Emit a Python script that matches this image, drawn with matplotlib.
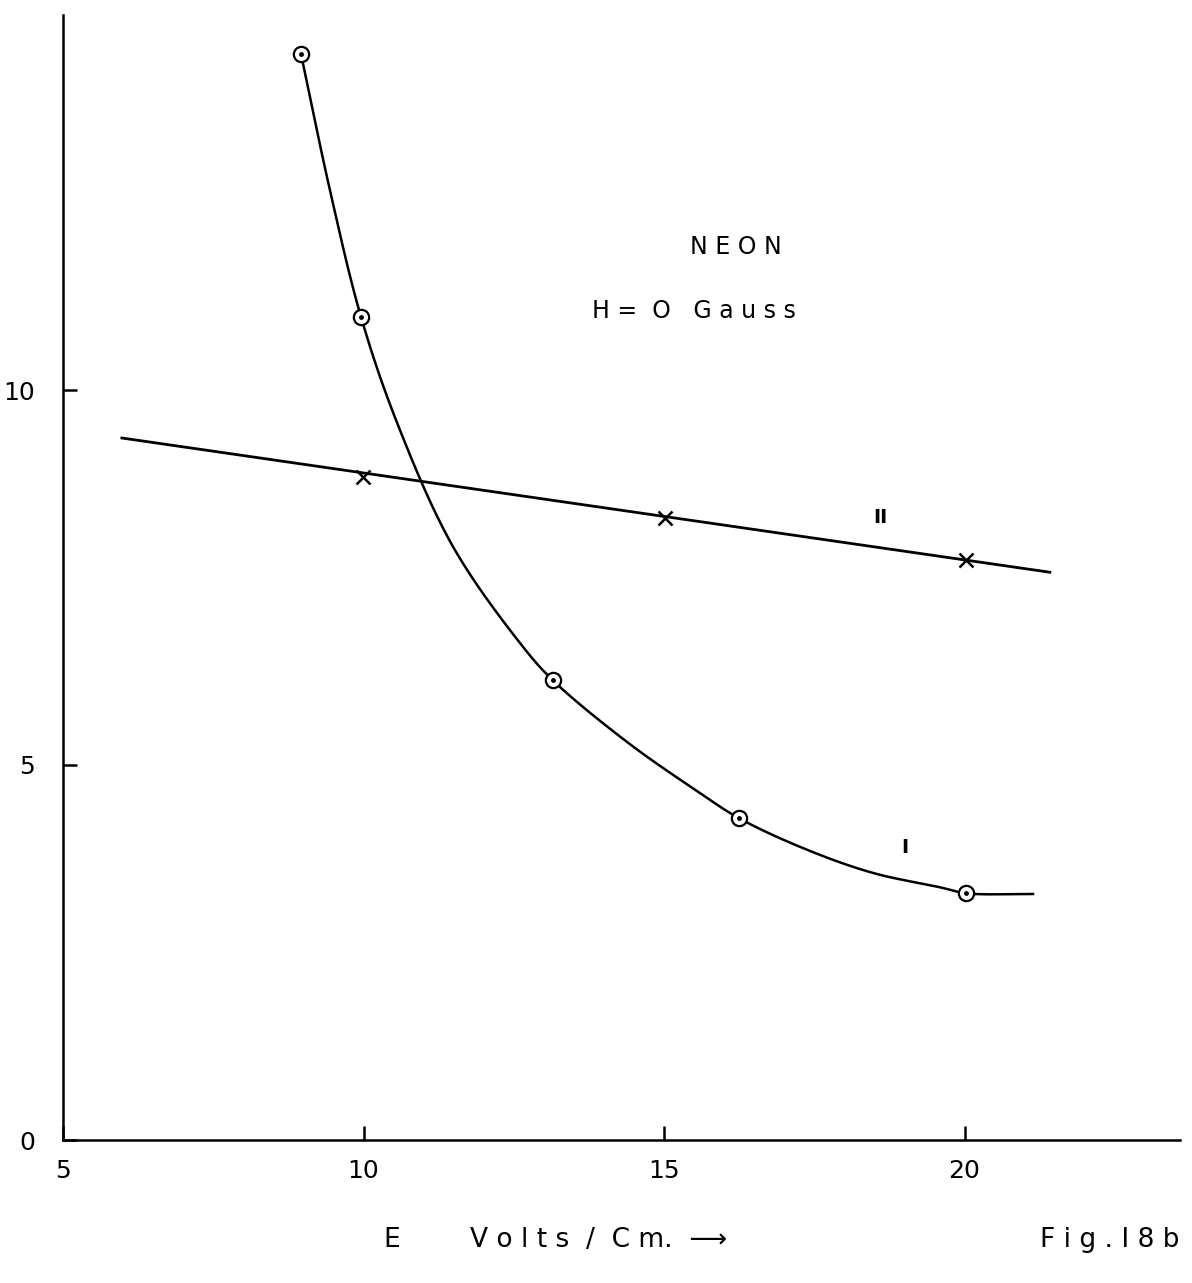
import numpy as np
import matplotlib
matplotlib.use('Agg')
import matplotlib.pyplot as plt

# measured points, curve I (circles) and curve II (crosses)
e_I = [8.96, 9.96, 13.15, 16.25, 20.02]
v_I = [14.48, 10.97, 6.13, 4.29, 3.29]
e_II = [9.99, 15.02, 20.02]
v_II = [8.84, 8.29, 7.73]

# hand drawn curve through the circles
trace_I_x = [8.96, 9.44, 9.96, 10.56, 11.49, 12.60, 13.15, 14.38, 15.48, 16.25,
             17.38, 18.48, 19.59, 20.02, 21.14]
trace_I_y = [14.48, 12.67, 10.97, 9.56, 7.91, 6.63, 6.13, 5.31, 4.69, 4.29,
             3.87, 3.56, 3.37, 3.29, 3.28]
# straight line II
trace_II_x = [5.98, 21.42]
trace_II_y = [9.36, 7.57]

xticks = [5, 10, 15, 20]
yticks = [0, 5, 10]


# smooth the traced pen line (centripetal catmull-rom, drawing only)
def smooth(xs, ys, sx=60.1, sy=75.0, n=30):
    p = np.column_stack([np.array(xs) * sx, np.array(ys) * sy])
    p = np.vstack([2*p[0] - p[1], p, 2*p[-1] - p[-2]])
    out = []
    for i in range(1, len(p) - 2):
        P = p[i-1:i+3]
        t = [0.0]
        for k in range(3):
            t.append(t[-1] + np.linalg.norm(P[k+1] - P[k]) ** 0.5)
        for u in np.linspace(t[1], t[2], n, endpoint=False):
            A1 = (t[1]-u)/(t[1]-t[0])*P[0] + (u-t[0])/(t[1]-t[0])*P[1]
            A2 = (t[2]-u)/(t[2]-t[1])*P[1] + (u-t[1])/(t[2]-t[1])*P[2]
            A3 = (t[3]-u)/(t[3]-t[2])*P[2] + (u-t[2])/(t[3]-t[2])*P[3]
            B1 = (t[2]-u)/(t[2]-t[0])*A1 + (u-t[0])/(t[2]-t[0])*A2
            B2 = (t[3]-u)/(t[3]-t[1])*A2 + (u-t[1])/(t[3]-t[1])*A3
            out.append((t[2]-u)/(t[2]-t[1])*B1 + (u-t[1])/(t[2]-t[1])*B2)
    out.append(p[-2])
    out = np.array(out)
    return out[:, 0] / sx, out[:, 1] / sy


plt.rcParams['font.family'] = ['DejaVu Sans']

fig = plt.figure(figsize=(11.92, 12.83), dpi=100)
ax = fig.add_axes([63/1192, 143/1283, (1180-63)/1192, (1140-15)/1283])
ax.set_xlim(5, 5 + (1180-63)/60.1)
ax.set_ylim(0, 15.0)

cx, cy = smooth(trace_I_x, trace_I_y)
ax.plot(cx, cy, color='black', lw=1.8, zorder=2)
ax.plot(trace_II_x, trace_II_y, color='black', lw=2.0, zorder=2)
ax.plot(e_I, v_I, ls='none', marker='o', ms=11, mfc='white', mec='black', mew=1.6, zorder=3)
ax.plot(e_I, v_I, ls='none', marker='o', ms=2.5, color='black', zorder=4)
ax.plot(e_II, v_II, ls='none', marker='x', ms=10, mew=1.8, color='black', zorder=3)

for s in ['top', 'right']:
    ax.spines[s].set_visible(False)
for s in ['left', 'bottom']:
    ax.spines[s].set_linewidth(1.8)

ax.set_xticks(xticks)
ax.set_yticks(yticks)
ax.set_xticklabels([str(t) for t in xticks])
ax.set_yticklabels([str(t) for t in yticks])
ax.tick_params(direction='in', length=10, width=1.8, labelsize=18, color='black')
ax.tick_params(axis='x', pad=14)
ax.tick_params(axis='y', pad=20)

ax.text(16.2, 11.9, 'N E O N', fontsize=17, ha='center', va='center')
ax.text(15.5, 11.05, 'H =  O   G a u s s', fontsize=17, ha='center', va='center')
ax.text(18.6, 8.3, 'II', fontsize=14, ha='center', va='center', fontweight='bold')
ax.text(19.0, 3.9, 'I', fontsize=14, ha='center', va='center', fontweight='bold')

fig.text(392/1192, 1 - 1240/1283, 'E', fontsize=19, ha='center', va='center')
fig.text(470/1192, 1 - 1240/1283, 'V o l t s  /  C m.  \u27f6', fontsize=19, ha='left', va='center')
fig.text(1180/1192, 1 - 1240/1283, 'F i g . I 8 b', fontsize=19, ha='right', va='center')

fig.savefig('out.png', dpi=100, facecolor='white')
